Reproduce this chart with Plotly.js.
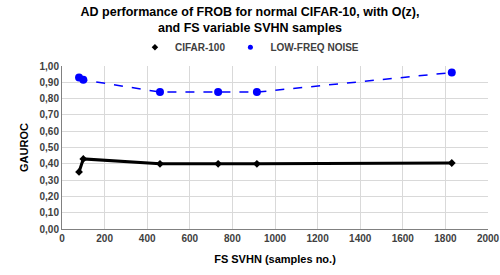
<!DOCTYPE html>
<html><head><meta charset="utf-8">
<script src="https://cdn.plot.ly/plotly-3.0.1.min.js"></script>
<style>html,body{margin:0;padding:0;background:#fff}#chart{width:500px;height:275px}</style>
</head><body><div id="chart"></div>
<script>
const samplesCifar = [80, 100, 460, 733, 915, 1830];
const cifar100 = [0.35, 0.43, 0.40, 0.40, 0.40, 0.405];
const samplesNoise = [80, 100, 460, 733, 915, 1830];
const lowFreqNoise = [0.93, 0.915, 0.84, 0.84, 0.84, 0.96];
const xTicks = [0, 200, 400, 600, 800, 1000, 1200, 1400, 1600, 1800, 2000];
const seriesNames = ['CIFAR-100', 'LOW-FREQ NOISE'];

const FAM = 'Liberation Sans, Arial, sans-serif';
const traces = [
  {x: samplesCifar, y: cifar100, name: seriesNames[0], mode: 'lines+markers', type: 'scatter', showlegend: false,
   line: {color: '#000000', width: 3}, marker: {symbol: 'diamond', size: 6, color: '#000000'}},
  {x: samplesNoise, y: lowFreqNoise, name: seriesNames[1], mode: 'lines+markers', type: 'scatter', showlegend: false,
   line: {color: '#0000ff', width: 1.5, dash: 'dash'}, marker: {symbol: 'circle', size: 8, color: '#0000ff'}},
  {x: [null], y: [null], name: seriesNames[0], mode: 'markers', type: 'scatter', showlegend: true,
   marker: {symbol: 'diamond', size: 5, color: '#000000'}},
  {x: [null], y: [null], name: seriesNames[1], mode: 'markers', type: 'scatter', showlegend: true,
   marker: {symbol: 'circle', size: 5, color: '#0000ff'}}
];
const layout = {
  width: 500, height: 275,
  margin: {l: 62, r: 12, t: 66, b: 46},
  separators: ', ',
  paper_bgcolor: '#fff', plot_bgcolor: '#fff',
  font: {family: FAM, color: '#404040', size: 10},
  title: {text: 'AD performance of FROB for normal CIFAR-10, with O(z),<br>and FS variable SVHN samples',
    x: 0.5, xanchor: 'center', yref: 'container', y: 0.943, yanchor: 'middle',
    font: {family: FAM, size: 12.5, color: '#000', weight: 700}},
  showlegend: true,
  legend: {orientation: 'h', x: 0.44, xanchor: 'center', y: 1.115, yanchor: 'middle',
    font: {family: FAM, size: 10, color: '#404040', weight: 700}, itemwidth: 30, traceorder: 'normal',
    itemclick: false},
  xaxis: {range: [0, 2000], tickvals: xTicks, ticktext: xTicks.map(v => '<b>' + v + '</b>'),
    showgrid: true, gridcolor: '#d9d9d9', gridwidth: 1, zeroline: false,
    showline: true, linecolor: '#808080', linewidth: 1, ticks: '',
    tickfont: {family: FAM, size: 10, color: '#404040', weight: 700},
    title: {text: 'FS SVHN (samples no.)', font: {family: FAM, size: 11, color: '#000', weight: 700}, standoff: 12}},
  yaxis: {range: [0, 1.0], dtick: 0.1, tickformat: '.2f',
    showgrid: true, gridcolor: '#d9d9d9', gridwidth: 1, zeroline: false,
    showline: true, linecolor: '#808080', linewidth: 1, ticks: '',
    tickfont: {family: FAM, size: 10, color: '#404040', weight: 700},
    title: {text: 'GAUROC', font: {family: FAM, size: 11, color: '#000', weight: 700}, standoff: 8}}
};
Plotly.newPlot('chart', traces, layout, {displayModeBar: false, staticPlot: true});
</script></body></html>
